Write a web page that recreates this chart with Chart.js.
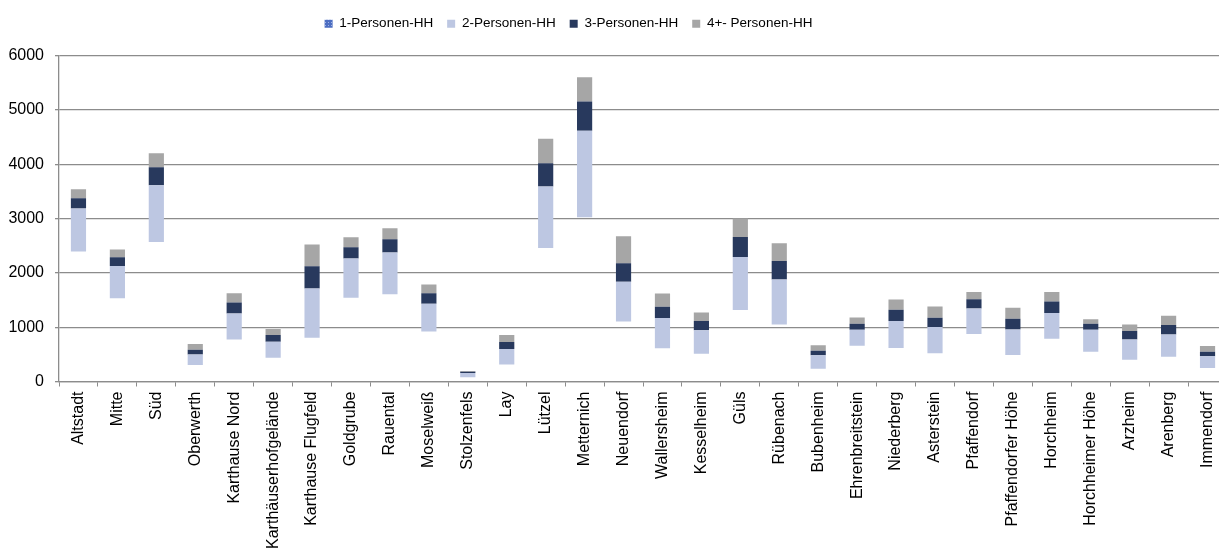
<!DOCTYPE html>
<html>
<head>
<meta charset="utf-8">
<script src="https://cdn.jsdelivr.net/npm/chart.js@4"></script>
<style>
  html, body { margin: 0; padding: 0; background: #fff; overflow: hidden; }
  #wrap { position: absolute; left: 0; top: 0; width: 1232px; height: 552px; }
</style>
</head>
<body>
<div id="wrap"><canvas id="chBar-hh"></canvas></div>
<script>
// Haushalte nach Größe, Stadtteile
var stadtteile = ['Altstadt', 'Mitte', 'Süd', 'Oberwerth', 'Karthause Nord', 'Karthäuserhofgelände',
  'Karthause Flugfeld', 'Goldgrube', 'Rauental', 'Moselweiß', 'Stolzenfels', 'Lay', 'Lützel',
  'Metternich', 'Neuendorf', 'Wallersheim', 'Kesselheim', 'Güls', 'Rübenach', 'Bubenheim',
  'Ehrenbreitstein', 'Niederberg', 'Asterstein', 'Pfaffendorf', 'Pfaffendorfer Höhe', 'Horchheim',
  'Horchheimer Höhe', 'Arzheim', 'Arenberg', 'Immendorf'];

var hh1 = [2392, 1534, 2569, 303, 775, 438, 805, 1540, 1608, 922, 77, 315, 2459, 3023, 1106,
  610, 511, 1314, 1051, 235, 658, 616, 518, 873, 487, 787, 548, 401, 456, 248];
var hh2 = [790, 594, 1042, 196, 478, 294, 907, 723, 766, 508, 81, 282, 1128, 1593, 728,
  557, 430, 979, 827, 246, 294, 496, 484, 472, 472, 472, 404, 374, 411, 215];
var hh3 = [190, 160, 331, 86, 202, 122, 410, 208, 244, 196, 22, 129, 428, 538, 343,
  208, 171, 368, 342, 85, 110, 208, 171, 171, 195, 215, 110, 153, 171, 85];
var hh4 = [165, 141, 257, 104, 171, 111, 399, 184, 203, 160, 15, 128, 453, 447, 497,
  245, 159, 338, 325, 99, 118, 190, 209, 129, 203, 171, 86, 123, 171, 104];

var yTicks = [0, 1000, 2000, 3000, 4000, 5000, 6000];

var seriesNames = ['1-Personen-HH', '2-Personen-HH', '3-Personen-HH', '4+- Personen-HH'];
var colors = ['#4d6ec2', '#bdc7e2', '#28395d', '#a6a6a6'];

// dotted blue pattern for the legend box of the invisible series
var pc = document.createElement('canvas');
pc.width = 3; pc.height = 3;
var pctx = pc.getContext('2d');
pctx.fillStyle = colors[0];
pctx.fillRect(0, 0, 3, 3);
pctx.fillStyle = '#9fb2e2';
pctx.fillRect(1, 1, 1, 1);
var legendPattern = pctx.createPattern(pc, 'repeat');

// more room under the legend, and legend a bit to the left
var legendTweak = {
  id: 'legendTweak',
  beforeInit: function (chart) {
    var fit = chart.legend.fit;
    chart.legend.fit = function () {
      fit.bind(chart.legend)();
      this.height += 15;
    };
  },
  afterLayout: function (chart) {
    chart.legend.left -= 45;
    chart.legend.right -= 45;
  }
};

Chart.defaults.font.family = '"Liberation Sans", Arial, sans-serif';
Chart.defaults.color = '#000';

var ctx = document.getElementById('chBar-hh');
new Chart(ctx, {
  type: 'bar',
  data: {
    labels: stadtteile,
    datasets: [
      { label: seriesNames[0], data: hh1, backgroundColor: 'rgba(0,0,0,0)' },
      { label: seriesNames[1], data: hh2, backgroundColor: colors[1] },
      { label: seriesNames[2], data: hh3, backgroundColor: colors[2] },
      { label: seriesNames[3], data: hh4, backgroundColor: colors[3] }
    ]
  },
  plugins: [legendTweak],
  options: {
    responsive: true,
    maintainAspectRatio: false,
    animation: false,
    layout: { padding: { top: 3, right: 5, left: 0, bottom: 0 } },
    datasets: { bar: { categoryPercentage: 1, barPercentage: 0.39 } },
    plugins: {
      tooltip: { enabled: false },
      legend: {
        position: 'top',
        labels: {
          boxWidth: 8,
          boxHeight: 8,
          padding: 14,
          font: { size: 13.5 },
          generateLabels: function (chart) {
            var items = Chart.defaults.plugins.legend.labels.generateLabels(chart);
            items.forEach(function (it, i) {
              it.fillStyle = i === 0 ? legendPattern : colors[i];
              it.strokeStyle = 'rgba(0,0,0,0)';
              it.lineWidth = 0;
            });
            return items;
          }
        }
      }
    },
    scales: {
      x: {
        stacked: true,
        grid: { drawOnChartArea: false, color: '#8c8c8c', tickLength: 5, offset: true },
        border: { color: '#8c8c8c', width: 1.3 },
        ticks: { autoSkip: false, minRotation: 90, maxRotation: 90, padding: 5, font: { size: 16 } },
        afterFit: function (scale) { scale.height = 170.5; }
      },
      y: {
        stacked: true,
        min: 0,
        max: 6000,
        afterBuildTicks: function (scale) {
          scale.ticks = yTicks.map(function (v) { return { value: v }; });
        },
        grid: { color: '#8c8c8c', lineWidth: 1.3, tickLength: 4 },
        border: { color: '#8c8c8c', width: 1.3 },
        ticks: {
          padding: 11,
          font: { size: 16 },
          callback: function (value) { return String(value); }
        },
        afterFit: function (scale) { scale.width = 59; }
      }
    }
  }
});
</script>
</body>
</html>
